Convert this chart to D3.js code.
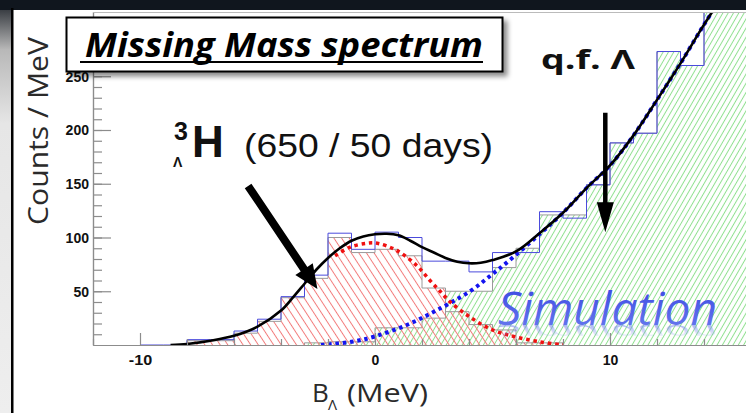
<!DOCTYPE html>
<html>
<head>
<meta charset="utf-8">
<script src="https://cdn.jsdelivr.net/npm/d3@7"></script>
<style>
  body { margin: 0; background: #fff; overflow: hidden; }
  svg { display: block; }
</style>
</head>
<body>
<div id="chart"></div>
<script>
// histograms: left bin edges in MeV, bins are 1 MeV wide
var dataBins   = [-10, -9, -8, -7, -6, -5, -4, -3, -2, -1, 0, 1, 2, 3, 4, 5, 6, 7, 8, 9, 10, 11, 12, 13, 14, 15];
var dataCounts = [0, 0, 5, 5, 13, 24, 45, 65, 104, 89, 105, 100, 78, 78, 68, 86, 86, 124, 118, 149, 188, 197, 273, 260, 330, 340];

// hypertriton simulation (red hatch)
var lamHBins   = [-8, -7, -6, -5, -4, -3, -2, -1, 0, 1, 2, 3, 4, 5, 6, 7];
var lamHCounts = [4, 4, 11, 22, 44, 62, 100, 86, 89, 83, 53, 31, 19, 14, 2, 2];

// quasi-free Lambda simulation (green hatch)
var qfBins   = [-3, -2, -1, 0, 1, 2, 3, 4, 5, 6, 7, 8, 9, 10, 11, 12, 13, 14, 15];
var qfCounts = [2, 3, 3, 16, 16, 25, 50, 50, 72, 90, 121, 121, 149, 188, 197, 273, 260, 330, 340];

// fit curves: [B, counts]
var fitTotal = [[-8.7, 0], [-8, 1], [-7, 4], [-6, 8.5], [-5, 17], [-4, 32], [-3.5, 44], [-3, 57], [-2.5, 70],
  [-2, 81], [-1.5, 90], [-1, 97], [-0.5, 101], [0, 103], [0.5, 103.5], [1, 102], [1.5, 97], [2, 91],
  [2.5, 86], [3, 81], [3.5, 77.5], [4, 76], [4.5, 76.5], [5, 79], [6, 87], [7, 104], [8, 123], [9, 146],
  [10, 167], [11, 195], [12, 228], [13, 262], [14, 298], [14.8, 325]];
var fitSignal = [[-1.7, 83], [-1.06, 91], [-0.35, 94.6], [0.1, 94.6], [0.92, 88], [1.77, 74], [2.34, 60],
  [2.77, 50], [3.2, 40], [4.04, 26], [5, 14], [5.9, 8], [7, 3], [8, 0]];
var fitBackground = [[-2.3, 0], [-1, 3], [0, 8], [1.35, 18.6], [2.6, 32], [4.04, 50], [5, 66], [5.9, 82],
  [7, 103], [8, 123], [9, 146], [10, 167], [11, 195], [12, 228], [13, 262], [14, 298], [14.8, 325]];

var xMajor = [-10, 0, 10];
var xMinor = [-12, -8, -6, -4, -2, 2, 4, 6, 8, 12, 14];
var yMajor = [50, 100, 150, 200, 250];
var yMinor = d3.range(10, 310, 10);

var W = 746, H = 413;
var plotLeft = 93, plotBottom = 345, plotTop = 12;

var x = d3.scaleLinear().domain([-12, 16]).range([93, 751]);
var y = d3.scaleLinear().domain([0, 310]).range([345, 11.75]);

var svg = d3.select("#chart").append("svg")
  .attr("width", W)
  .attr("height", H);

var defs = svg.append("defs");

defs.append("clipPath").attr("id", "plotClip")
  .append("rect")
  .attr("x", plotLeft).attr("y", plotTop)
  .attr("width", W - plotLeft).attr("height", plotBottom - plotTop);

// hatch patterns
function hatch(id, color, angle, gap) {
  defs.append("pattern")
    .attr("id", id)
    .attr("patternUnits", "userSpaceOnUse")
    .attr("width", gap).attr("height", gap)
    .attr("patternTransform", "rotate(" + angle + ")")
    .append("line")
    .attr("x1", gap / 2).attr("y1", 0)
    .attr("x2", gap / 2).attr("y2", gap)
    .attr("stroke", color)
    .attr("stroke-width", 1);
}
hatch("redHatch", "#f27a7a", -33, 6.4);
hatch("greenHatch", "#8fe08f", 30, 4.6);

var simBase = 325, simX = 498;
var simGrad = defs.append("linearGradient").attr("id", "simGrad")
  .attr("x1", 0).attr("y1", 0).attr("x2", 0).attr("y2", 1);
simGrad.append("stop").attr("offset", "0%").attr("stop-color", "#3340e0");
simGrad.append("stop").attr("offset", "100%").attr("stop-color", "#6f82f0");

var reflGrad = defs.append("linearGradient").attr("id", "reflGrad")
  .attr("gradientUnits", "userSpaceOnUse")
  .attr("x1", 0).attr("y1", simBase).attr("x2", 0).attr("y2", simBase - 30);
reflGrad.append("stop").attr("offset", "0%").attr("stop-color", "#8090ee").attr("stop-opacity", 0.65);
reflGrad.append("stop").attr("offset", "100%").attr("stop-color", "#8090ee").attr("stop-opacity", 0);

var shadow = defs.append("filter").attr("id", "shadow")
  .attr("x", "-10%").attr("y", "-30%").attr("width", "130%").attr("height", "180%");
shadow.append("feDropShadow")
  .attr("dx", 4).attr("dy", 4).attr("stdDeviation", 2.5)
  .attr("flood-color", "#000").attr("flood-opacity", 0.45);

// step outline of a histogram, closed down to the baseline
function histPoints(bins, counts) {
  var pts = [[bins[0], 0]];
  bins.forEach(function (b, i) {
    pts.push([b, counts[i]]);
    pts.push([b + 1, counts[i]]);
  });
  pts.push([bins[bins.length - 1] + 1, 0]);
  return pts;
}
var stepLine = d3.line()
  .x(function (d) { return x(d[0]); })
  .y(function (d) { return y(d[1]); });

var plot = svg.append("g").attr("clip-path", "url(#plotClip)");

plot.append("path")
  .attr("d", stepLine(histPoints(qfBins, qfCounts)))
  .attr("fill", "url(#greenHatch)")
  .attr("stroke", "#9a9a9a").attr("stroke-width", 1);

plot.append("path")
  .attr("d", stepLine(histPoints(lamHBins, lamHCounts)))
  .attr("fill", "url(#redHatch)")
  .attr("stroke", "#9a9a9a").attr("stroke-width", 1);

plot.append("path")
  .attr("d", stepLine(histPoints(dataBins, dataCounts)))
  .attr("fill", "none")
  .attr("stroke", "#4b4bdc").attr("stroke-width", 1);

// axes
var fmt = function (d) { return String(d); };
var yAxisMinor = d3.axisLeft(y).tickValues(yMinor).tickSizeInner(-9).tickSizeOuter(0).tickFormat("");
var yAxis = d3.axisLeft(y).tickValues(yMajor).tickSizeInner(-18).tickSizeOuter(0).tickPadding(4).tickFormat(fmt);
var xAxisMinor = d3.axisBottom(x).tickValues(xMinor).tickSizeInner(-6).tickSizeOuter(0).tickFormat("");
var xAxis = d3.axisBottom(x).tickValues(xMajor).tickSizeInner(-12).tickSizeOuter(0).tickPadding(9).tickFormat(fmt);

function styleAxis(g) {
  g.selectAll("path, line").attr("stroke", "#8c8c8c").attr("stroke-width", 1.2);
  g.selectAll("text")
    .attr("fill", "#111")
    .attr("textLength", function (d) { return String(d).length * 7.8; })
    .attr("lengthAdjust", "spacingAndGlyphs")
    .style("font-family", "'Liberation Sans', Arial, sans-serif")
    .style("font-weight", "bold")
    .style("font-size", "15px");
}
svg.append("g").attr("transform", "translate(" + plotLeft + ",0)").call(yAxisMinor).call(styleAxis);
svg.append("g").attr("transform", "translate(" + plotLeft + ",0)").call(yAxis).call(styleAxis);
svg.append("g").attr("transform", "translate(0," + plotBottom + ")").call(xAxisMinor).call(styleAxis);
svg.append("g").attr("transform", "translate(0," + plotBottom + ")").call(xAxis).call(styleAxis);

svg.append("line")
  .attr("x1", plotLeft).attr("x2", W)
  .attr("y1", plotTop + 0.5).attr("y2", plotTop + 0.5)
  .attr("stroke", "#bbbbbb").attr("stroke-width", 1);

// fit curves
var curve = d3.line()
  .x(function (d) { return x(d[0]); })
  .y(function (d) { return y(d[1]); })
  .curve(d3.curveCatmullRom);

plot.append("path")
  .attr("d", curve(fitBackground))
  .attr("fill", "none")
  .attr("stroke", "#1414f0").attr("stroke-width", 4)
  .attr("stroke-dasharray", "3.5 3.8");

plot.append("path")
  .attr("d", curve(fitSignal))
  .attr("fill", "none")
  .attr("stroke", "#f01010").attr("stroke-width", 3.5)
  .attr("stroke-dasharray", "3.5 3.8");

plot.append("path")
  .attr("d", curve(fitTotal))
  .attr("fill", "none")
  .attr("stroke", "#000").attr("stroke-width", 2.6);

// "Simulation" label; the reflection is a squashed <use> copy of the same text
var simFont = "'Open Sans', 'Noto Sans', sans-serif";
svg.append("g")
  .attr("fill", "url(#simGrad)")
  .append("text")
  .attr("id", "simText")
  .attr("x", simX).attr("y", simBase)
  .attr("textLength", 219).attr("lengthAdjust", "spacingAndGlyphs")
  .style("font-family", simFont).style("font-style", "italic").style("font-size", "45px")
  .style("fill", "inherit")
  .text("Simulation");
svg.append("use")
  .attr("href", "#simText")
  .attr("transform", "translate(0," + (simBase * 1.45) + ") scale(1,-0.45)")
  .attr("fill", "url(#reflGrad)");

// arrows
function arrow(x1, y1, x2, y2, shaftW, headL, headW) {
  var dx = x2 - x1, dy = y2 - y1, len = Math.sqrt(dx * dx + dy * dy);
  var ux = dx / len, uy = dy / len, px = -uy, py = ux;
  var bx = x2 - ux * headL, by = y2 - uy * headL;
  var pts = [
    [x1 + px * shaftW / 2, y1 + py * shaftW / 2],
    [bx + px * shaftW / 2, by + py * shaftW / 2],
    [bx + px * headW / 2, by + py * headW / 2],
    [x2, y2],
    [bx - px * headW / 2, by - py * headW / 2],
    [bx - px * shaftW / 2, by - py * shaftW / 2],
    [x1 - px * shaftW / 2, y1 - py * shaftW / 2]
  ];
  svg.append("polygon")
    .attr("points", pts.map(function (p) { return p.join(","); }).join(" "))
    .attr("fill", "#000");
}
arrow(x(-5.4), y(148), x(-2.45), y(52), 8, 24, 21);
arrow(x(9.8), y(216), x(9.8), y(105), 4.5, 30, 17);

// hypertriton label
var labelFont = "'Liberation Sans', Arial, sans-serif";
svg.append("text").attr("x", 174).attr("y", 140)
  .style("font-family", labelFont).style("font-weight", "bold").style("font-size", "25px")
  .attr("fill", "#111").text("3");
svg.append("text").attr("x", 173).attr("y", 167)
  .style("font-family", labelFont).style("font-weight", "bold").style("font-size", "14px")
  .attr("fill", "#111").text("Λ");
svg.append("text").attr("x", 192).attr("y", 157)
  .style("font-family", labelFont).style("font-weight", "bold").style("font-size", "44px")
  .attr("fill", "#111").text("H");
svg.append("text").attr("x", 244).attr("y", 157)
  .attr("textLength", 249).attr("lengthAdjust", "spacingAndGlyphs")
  .style("font-family", labelFont).style("font-size", "33px")
  .attr("fill", "#111").text("(650 / 50 days)");

svg.append("text").attr("x", 541).attr("y", 69)
  .attr("textLength", 94).attr("lengthAdjust", "spacingAndGlyphs")
  .style("font-family", "'Open Sans', 'Noto Sans', sans-serif")
  .style("font-weight", "bold").style("font-size", "27px")
  .attr("fill", "#111").text("q.f. Λ");

// axis titles
svg.append("text")
  .attr("transform", "translate(48,131) rotate(-90)")
  .attr("text-anchor", "middle")
  .attr("textLength", 188).attr("lengthAdjust", "spacingAndGlyphs")
  .style("font-family", "'Open Sans', 'Noto Sans', sans-serif")
  .style("font-size", "27px")
  .attr("fill", "#2a2a2a").text("Counts / MeV");

svg.append("text").attr("x", 312).attr("y", 402)
  .style("font-family", "'Open Sans', 'Noto Sans', sans-serif").style("font-size", "26px")
  .attr("fill", "#2a2a2a").text("B");
svg.append("text").attr("x", 328).attr("y", 410)
  .style("font-family", "'Open Sans', 'Noto Sans', sans-serif").style("font-size", "15px")
  .attr("fill", "#2a2a2a").text("Λ");
svg.append("text").attr("x", 347).attr("y", 402)
  .attr("textLength", 81).attr("lengthAdjust", "spacingAndGlyphs")
  .style("font-family", "'Open Sans', 'Noto Sans', sans-serif").style("font-size", "26px")
  .attr("fill", "#2a2a2a").text("(MeV)");

// title box
svg.append("rect")
  .attr("x", 66.5).attr("y", 17.5).attr("width", 436).attr("height", 54)
  .attr("fill", "#fff").attr("stroke", "#000").attr("stroke-width", 2)
  .attr("filter", "url(#shadow)");
svg.append("text").attr("x", 85).attr("y", 57)
  .attr("textLength", 398).attr("lengthAdjust", "spacingAndGlyphs")
  .style("font-family", "'Open Sans', 'Noto Sans', sans-serif")
  .style("font-weight", "bold").style("font-style", "italic").style("font-size", "34px")
  .attr("fill", "#000").text("Missing Mass spectrum");
svg.append("rect")
  .attr("x", 80).attr("y", 61).attr("width", 403).attr("height", 2)
  .attr("fill", "#000");

// slide frame
var frameGrad = defs.append("linearGradient").attr("id", "frameGrad")
  .attr("x1", 0).attr("y1", 0).attr("x2", 0).attr("y2", 1);
frameGrad.append("stop").attr("offset", "0%").attr("stop-color", "#1a1f26");
frameGrad.append("stop").attr("offset", "12%").attr("stop-color", "#b8b8b8");
frameGrad.append("stop").attr("offset", "30%").attr("stop-color", "#e6e6e6");
frameGrad.append("stop").attr("offset", "100%").attr("stop-color", "#eeeeee");
svg.append("rect").attr("x", 0).attr("y", 0).attr("width", 11).attr("height", H)
  .attr("fill", "url(#frameGrad)");
svg.append("rect").attr("x", 0).attr("y", 0).attr("width", W).attr("height", 10)
  .attr("fill", "#10161e");
svg.append("rect").attr("x", 11).attr("y", 8).attr("width", 2.5).attr("height", H)
  .attr("fill", "#000");
</script>
</body>
</html>
